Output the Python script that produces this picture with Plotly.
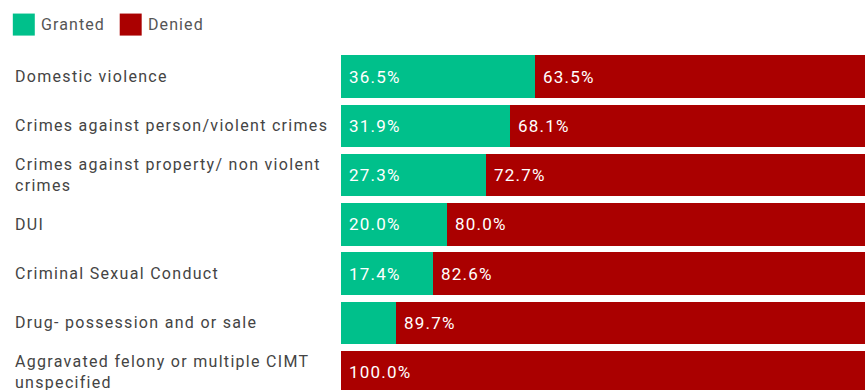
import textwrap
import plotly.graph_objects as go

# Outcome shares (%) by offense category
categories = [
    "Domestic violence",
    "Crimes against person/violent crimes",
    "Crimes against property/ non violent crimes",
    "DUI",
    "Criminal Sexual Conduct",
    "Drug- possession and or sale",
    "Aggravated felony or multiple CIMT unspecified",
]
granted = [36.5, 31.9, 27.3, 20.0, 17.4, 10.3, 0.0]
denied = [63.5, 68.1, 72.7, 80.0, 82.6, 89.7, 100.0]

series_names = ["Granted", "Denied"]
series_colors = ["#00C08B", "#AA0000"]

W, H = 865, 390
ML, MT = 340.5, 52.4
plot_w = W - ML
plot_h = H - MT


def spaced(txt, px):
    """Wrap text in a span with extra letter spacing."""
    return f"<span style='letter-spacing:{px}px'>{txt}</span>"


fig = go.Figure()
for name, vals, col in zip(series_names, [granted, denied], series_colors):
    fig.add_trace(go.Bar(
        y=categories, x=vals, name=name, orientation="h",
        marker=dict(color=col, line=dict(width=0)),
        showlegend=False, hoverinfo="x+name",
    ))

annotations = []
# category labels, left aligned in the left margin
lab_x = (12 - ML) / plot_w
for cat in categories:
    lines = textwrap.wrap(cat, 36)
    annotations.append(dict(
        x=lab_x, xref="paper", y=cat, yref="y",
        text="<br>".join(spaced(l, 1.3) for l in lines),
        showarrow=False, xanchor="left", yanchor="middle", align="left",
        font=dict(family="Roboto", size=16, color="#444444"),
    ))

# value labels at the start of each segment
for cat, g, d in zip(categories, granted, denied):
    for start, v in ((0.0, g), (g, d)):
        if v >= 15:
            annotations.append(dict(
                x=start, xref="x", y=cat, yref="y",
                text=spaced(f"{v:.1f}%", 1.2), showarrow=False,
                xanchor="left", yanchor="middle", xshift=6,
                font=dict(family="Roboto", size=17, color="#FFFFFF"),
            ))

# legend row
shapes = []
lx = 12
for name, col, tw in zip(series_names, series_colors, [64, 56]):
    x0 = (lx - ML) / plot_w
    x1 = (lx + 22 - ML) / plot_w
    shapes.append(dict(
        type="rect", xref="paper", yref="paper",
        x0=x0, x1=x1, y0=1 + (MT - 14) / plot_h, y1=1 + (MT - 36) / plot_h,
        fillcolor=col, line=dict(width=0),
    ))
    annotations.append(dict(
        x=(lx + 26 - ML) / plot_w, xref="paper",
        y=1 + (MT - 25) / plot_h, yref="paper",
        text=spaced(name, 1.1), showarrow=False, xanchor="left", yanchor="middle",
        font=dict(family="Roboto", size=16, color="#555555"),
    ))
    lx += 26 + tw + 17

fig.update_layout(
    width=W, height=H,
    margin=dict(l=ML, r=0, t=MT, b=0, pad=0),
    barmode="stack", bargap=0.14,
    plot_bgcolor="white", paper_bgcolor="white",
    xaxis=dict(range=[0, plot_w / 5.31], visible=False, fixedrange=True),
    yaxis=dict(range=[-0.5 + plot_h / 49.2, -0.5], showticklabels=False,
               showgrid=False, zeroline=False, showline=False, ticks=""),
    annotations=annotations, shapes=shapes,
)

fig.write_html("out.html")
